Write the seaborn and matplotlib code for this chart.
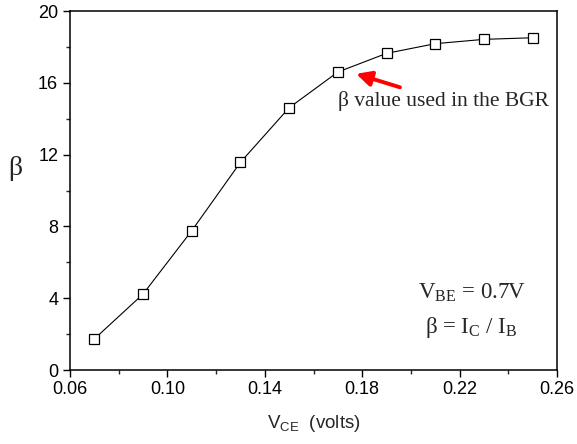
import matplotlib
matplotlib.use("Agg")
import matplotlib.pyplot as plt
import seaborn as sns
import pandas as pd
from matplotlib.ticker import MultipleLocator

vce = [0.07, 0.09, 0.11, 0.13, 0.15, 0.17, 0.19, 0.21, 0.23, 0.25]
beta = [1.73, 4.23, 7.76, 11.57, 14.61, 16.6, 17.64, 18.18, 18.42, 18.51]
xticks = [0.06, 0.10, 0.14, 0.18, 0.22, 0.26]
yticks = [0, 4, 8, 12, 16, 20]

sns.set_style("ticks")
plt.rcParams['font.family'] = ['Liberation Sans', 'DejaVu Sans']
plt.rcParams['mathtext.fontset'] = 'custom'
plt.rcParams['mathtext.rm'] = 'Liberation Serif'
plt.rcParams['mathtext.sf'] = 'Liberation Sans'

df = pd.DataFrame({"vce": vce, "beta": beta})
fig = plt.figure(figsize=(5.77, 4.44), dpi=100)
ax = fig.add_axes([70/577, 74/444, 487/577, 359/444])
sns.lineplot(data=df, x="vce", y="beta", ax=ax, color="black", linewidth=0.8,
             marker="s", markersize=6.8, markerfacecolor="white",
             markeredgecolor="black", markeredgewidth=0.9)

ax.set_xlim(0.06, 0.26)
ax.set_ylim(0, 20)
ax.set_xticks(xticks)
ax.set_xticklabels([f"{t:.2f}" for t in xticks])
ax.set_yticks(yticks)
ax.set_yticklabels([str(t) for t in yticks])
ax.xaxis.set_minor_locator(MultipleLocator(0.02))
ax.yaxis.set_minor_locator(MultipleLocator(2))
ax.tick_params(which="major", direction="out", length=5, width=1, labelsize=13, colors="black")
ax.tick_params(axis="x", which="major", pad=3)
ax.tick_params(which="minor", direction="out", length=3, width=1)
for s in ax.spines.values():
    s.set_linewidth(1.1)
    s.set_color("black")

ax.set_xlabel("V$_{\\mathsf{CE}}$  (volts)", fontsize=13.5, labelpad=11)
ax.set_ylabel("β", fontsize=20, rotation=0, family=['Liberation Serif'], va="center")
ax.yaxis.set_label_coords(-0.113, 0.56)

ax.annotate("", xy=(0.1775, 16.5), xytext=(0.1955, 15.75),
            arrowprops=dict(arrowstyle="-|>,head_width=0.45,head_length=0.9",
                            color="red", lw=2.8, shrinkA=0, shrinkB=0))
ax.text(0.170, 15.0, "β value used in the BGR", fontsize=15.5,
        family=['Liberation Serif'], ha="left", va="center")

ax.text(0.225, 4.3, "V$_{\\mathrm{BE}}$ = 0.7V", fontsize=16.5, family=['Liberation Serif'],
        ha="center", va="center")
ax.text(0.225, 2.35, "β = I$_{\\mathrm{C}}$ / I$_{\\mathrm{B}}$", fontsize=16.5,
        family=['Liberation Serif'], ha="center", va="center")

fig.savefig("out.png", dpi=100)
